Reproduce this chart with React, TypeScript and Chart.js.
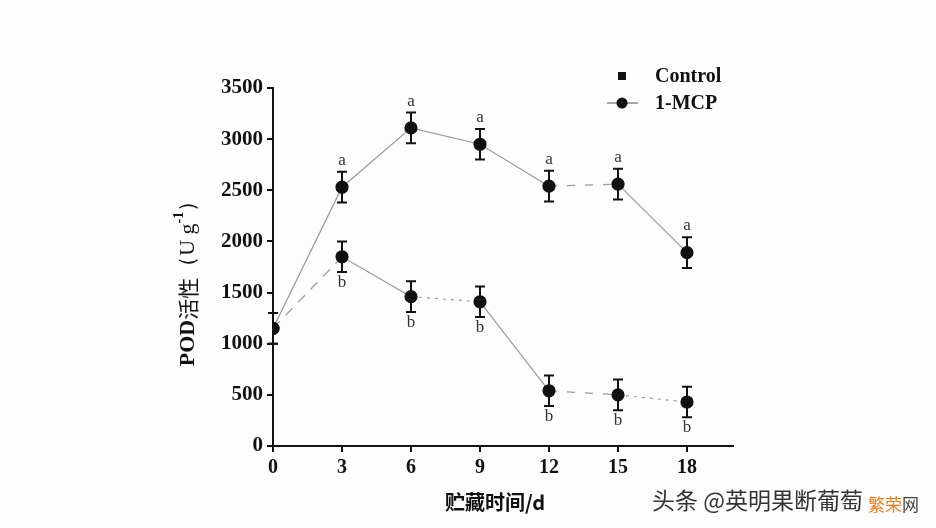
import React, { useEffect, useRef } from "react";
import { Chart, registerables } from "chart.js";

Chart.register(...registerables);

// ---- data ----
const days = [0, 3, 6, 9, 12, 15, 18];
const controlValues = [1150, 1850, 1460, 1410, 540, 500, 430];
const controlErrors = [150, 150, 150, 150, 150, 150, 150];
const controlLetters = ["", "b", "b", "b", "b", "b", "b"];
const mcpValues = [1150, 2530, 3110, 2950, 2540, 2560, 1890];
const mcpErrors = [150, 150, 150, 150, 150, 150, 150];
const mcpLetters = ["", "a", "a", "a", "a", "a", "a"];
const yTickStep = 500;
const yMax = 3500;
const xMax = 20;

// ---- styles ----
const SERIF = "'Liberation Serif', 'Times New Roman', serif";
const CJK = "'Noto Sans CJK SC', sans-serif";
const DASH: Record<string, number[]> = { solid: [], long: [10, 8], dash: [8, 10], dot: [3, 5] };
const controlSegments = ["long", "solid", "dot", "solid", "dash", "dot"];
const mcpSegments = ["solid", "solid", "solid", "solid", "dash", "solid"];

const overlay = {
  id: "overlay",
  afterDatasetsDraw(chart: any) {
    const { ctx, scales } = chart;
    const xs = scales.x, ys = scales.y;
    const drawSeries = (vals: number[], errs: number[], letters: string[], above: boolean) => {
      vals.forEach((v, i) => {
        const px = xs.getPixelForValue(days[i]);
        const top = ys.getPixelForValue(v + errs[i]);
        const bot = ys.getPixelForValue(v - errs[i]);
        ctx.save();
        ctx.strokeStyle = "#111";
        ctx.lineWidth = 2;
        ctx.beginPath();
        ctx.moveTo(px, top); ctx.lineTo(px, bot);
        ctx.moveTo(px - 5, top); ctx.lineTo(px + 5, top);
        ctx.moveTo(px - 5, bot); ctx.lineTo(px + 5, bot);
        ctx.stroke();
        if (letters[i]) {
          ctx.fillStyle = "#333";
          ctx.font = `17px ${SERIF}`;
          ctx.textAlign = "center";
          ctx.textBaseline = above ? "bottom" : "top";
          ctx.fillText(letters[i], px, above ? top - 3 : bot + 2);
        }
        ctx.restore();
      });
    };
    drawSeries(mcpValues, mcpErrors, mcpLetters, true);
    drawSeries(controlValues, controlErrors, controlLetters, false);

    ctx.save();
    // legend
    ctx.fillStyle = "#111";
    ctx.fillRect(618, 72, 8, 8);
    ctx.strokeStyle = "#555";
    ctx.lineWidth = 1;
    ctx.beginPath(); ctx.moveTo(607, 103); ctx.lineTo(638, 103); ctx.stroke();
    ctx.beginPath(); ctx.arc(622, 103, 5.5, 0, Math.PI * 2); ctx.fill();
    ctx.font = `bold 20px ${SERIF}`;
    ctx.textAlign = "left";
    ctx.textBaseline = "middle";
    ctx.fillText("Control", 655, 77);
    ctx.fillText("1-MCP", 655, 104);

    // y title (rotated)
    ctx.translate(188, 278);
    ctx.rotate(-Math.PI / 2);
    const parts: [string, string, number][] = [
      ["POD", `bold 22px ${SERIF}`, 0],
      ["活性", `21px ${CJK}`, 0],
      ["（U g", `22px ${SERIF}`, 0],
      ["-1", `bold 14px ${SERIF}`, -9],
      ["）", `22px ${SERIF}`, 0],
    ];
    let total = 0;
    parts.forEach(([t, f]) => { ctx.font = f; total += ctx.measureText(t).width; });
    let x = -total / 2;
    ctx.textAlign = "left";
    ctx.textBaseline = "middle";
    parts.forEach(([t, f, dy]) => {
      ctx.font = f;
      ctx.fillText(t, x, dy);
      x += ctx.measureText(t).width;
    });
    ctx.restore();

    ctx.save();
    // x title
    ctx.fillStyle = "#111";
    ctx.font = `bold 20px ${CJK}`;
    ctx.textAlign = "center";
    ctx.textBaseline = "middle";
    ctx.fillText("贮藏时间/d", 495, 502);
    // watermark
    ctx.textAlign = "left";
    ctx.font = `23px ${CJK}`;
    ctx.fillStyle = "#333";
    ctx.fillText("头条 @英明果断葡萄", 652, 500);
    ctx.fillStyle = "#f07a1a";
    ctx.font = `17px ${CJK}`;
    ctx.fillText("繁荣", 868, 505);
    ctx.fillStyle = "#444";
    ctx.fillText("网", 902, 505);
    ctx.restore();
  },
};

export default function App() {
  const ref = useRef<HTMLCanvasElement | null>(null);
  useEffect(() => {
    if (!ref.current) return;
    const mk = (vals: number[], segs: string[]) => ({
      data: vals.map((v, i) => ({ x: days[i], y: v })),
      borderColor: "#9a9a9a",
      borderWidth: 1.2,
      backgroundColor: "#111",
      pointBackgroundColor: "#111",
      pointBorderColor: "#111",
      pointRadius: 6,
      pointStyle: "circle",
      segment: { borderDash: (c: any) => DASH[segs[c.p0DataIndex]] },
    });
    const chart = new Chart(ref.current, {
      type: "line",
      data: {
        datasets: [
          { label: "Control", ...mk(controlValues, controlSegments) },
          { label: "1-MCP", ...mk(mcpValues, mcpSegments) },
        ],
      },
      options: {
        responsive: false,
        animation: false,
        layout: { padding: { top: 88, right: 203, left: 0, bottom: 0 } },
        plugins: { legend: { display: false }, tooltip: { enabled: false } },
        scales: {
          x: {
            type: "linear",
            min: 0,
            max: xMax,
            afterFit: (s: any) => { s.height = 82; },
            afterBuildTicks: (s: any) => { s.ticks = days.map((d) => ({ value: d })); },
            border: { color: "#111", width: 2 },
            grid: { drawOnChartArea: false, drawTicks: true, tickLength: 6, color: "#111", lineWidth: 2 },
            ticks: { color: "#111", font: { family: SERIF, size: 20, weight: "bold" }, padding: 4, maxRotation: 0, callback: (v: any) => String(v) },
          },
          y: {
            min: 0,
            max: yMax,
            afterFit: (s: any) => { s.width = 273; },
            border: { color: "#111", width: 2 },
            grid: { drawOnChartArea: false, drawTicks: true, tickLength: 6, color: "#111", lineWidth: 2 },
            ticks: { stepSize: yTickStep, color: "#111", font: { family: SERIF, size: 21, weight: "bold" }, padding: 4, callback: (v: any) => String(v) },
          },
        },
      },
      plugins: [overlay],
    } as any);
    return () => chart.destroy();
  }, []);
  return (
    <div style={{ position: "fixed", left: 0, top: 0, width: 936, height: 528, background: "#fdfdfd" }}>
      <canvas ref={ref} width={936} height={528} />
    </div>
  );
}
